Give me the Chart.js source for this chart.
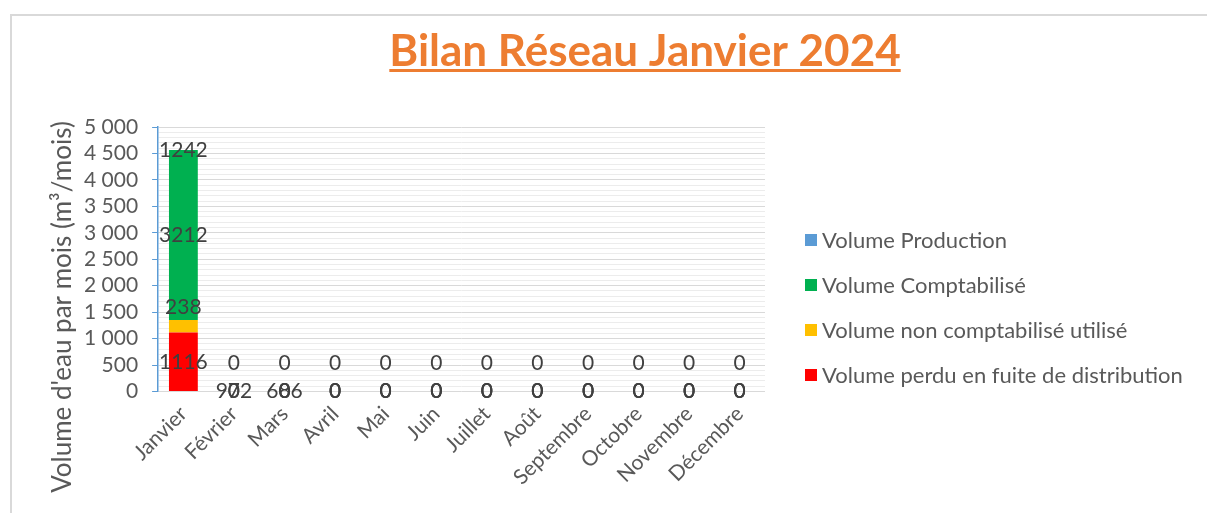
<!DOCTYPE html>
<html lang="fr">
<head>
<meta charset="utf-8">
<title>Bilan Réseau Janvier 2024</title>
<script src="https://cdn.jsdelivr.net/npm/chart.js@4/dist/chart.umd.min.js"></script>
<style>
  html, body { margin: 0; padding: 0; background: #fff; }
  #cadre {
    position: absolute; left: 10px; top: 14px; width: 1197px; height: 499px;
    border-left: 2px solid #d9d9d9; border-top: 2px solid #d9d9d9;
  }
  #zone { position: absolute; left: 0; top: 0; width: 1207px; height: 513px; }
  #legende {
    position: absolute; left: 805px; top: 227px; margin: 0; padding: 0;
    list-style: none; font-family: Lato, sans-serif; font-size: 22px; line-height: 26px; color: #595959;
  }
  #legende li { height: 45px; display: flex; align-items: flex-start; white-space: nowrap; }
  #legende span.boite { width: 12px; height: 12px; margin: 7px 5px 0 0; display: inline-block; flex: none; }
</style>
</head>
<body>
<div id="cadre"></div>
<div id="zone"><canvas id="myChart" width="1207" height="513"></canvas></div>
<ul id="legende"></ul>
<script>
const mois = ["Janvier", "Février", "Mars", "Avril", "Mai", "Juin", "Juillet", "Août",
  "Septembre", "Octobre", "Novembre", "Décembre"];
const volumePerdu = [1116, 0, 0, 0, 0, 0, 0, 0, 0, 0, 0, 0];
const volumeNonCompta = [238, 0, 0, 0, 0, 0, 0, 0, 0, 0, 0, 0];
const volumeCompta = [3212, 0, 0, 0, 0, 0, 0, 0, 0, 0, 0, 0];
const volumeProduction = [1242, 972, 686, 0, 0, 0, 0, 0, 0, 0, 0, 0];
const titre = "Bilan Réseau Janvier 2024";
const titreAxeY = "Volume d'eau par mois (m³/mois)";

const GRIS = "#595959";
const POLICE = "Lato, sans-serif";

// separateur de milliers a la francaise : "5 000"
function formaterMille(v) {
  return String(v).replace(/\B(?=(\d{3})+(?!\d))/g, " ");
}

// titre souligne + titre de l'axe vertical
const pluginTextes = {
  id: "textes",
  afterDraw(chart) {
    const ctx = chart.ctx;
    ctx.save();
    ctx.font = "bold 44px " + POLICE;
    ctx.fillStyle = "#ed7d31";
    ctx.textAlign = "center";
    ctx.textBaseline = "alphabetic";
    ctx.fillText(titre, 645, 66);
    const w = ctx.measureText(titre).width;
    ctx.fillRect(645 - w / 2, 69, w, 3);

    ctx.translate(63, 307);
    ctx.rotate(-Math.PI / 2);
    ctx.font = "26px " + POLICE;
    ctx.fillStyle = GRIS;
    ctx.textBaseline = "middle";
    ctx.fillText(titreAxeY, 0, 0);
    ctx.restore();
  },
};

// etiquettes de donnees, placees un peu comme Excel
const pluginEtiquettes = {
  id: "etiquettes",
  afterDatasetsDraw(chart) {
    const ctx = chart.ctx;
    ctx.save();
    ctx.font = "21px " + POLICE;
    ctx.fillStyle = "#404040";
    ctx.textAlign = "center";
    ctx.textBaseline = "middle";
    chart.data.datasets.forEach((ds, i) => {
      const meta = chart.getDatasetMeta(i);
      meta.data.forEach((barre, j) => {
        const v = ds.data[j];
        const haut = barre.y;
        const bas = barre.base;
        let y = (haut + bas) / 2;
        if (ds.position === "basMin") y = Math.min(y, bas - 28);
        if (ds.position === "dessus" && v > 0 && bas - haut < 20) y = haut - 13;
        if (ds.position === "base") y = bas;
        ctx.fillText(String(v), barre.x, y);
      });
    });
    ctx.restore();
  },
};

const config = {
  type: "bar",
  data: {
    labels: mois,
    datasets: [
      { label: "Volume perdu en fuite de distribution", data: volumePerdu,
        backgroundColor: "#ff0000", legende: "#ff0000", position: "basMin" },
      { label: "Volume non comptabilisé utilisé", data: volumeNonCompta,
        backgroundColor: "#ffc000", legende: "#ffc000", position: "dessus" },
      { label: "Volume Comptabilisé", data: volumeCompta,
        backgroundColor: "#00b050", legende: "#00b050", position: "centre" },
      { label: "Volume Production", data: volumeProduction,
        backgroundColor: "rgba(0,0,0,0)", legende: "#5b9bd5", position: "base" },
    ],
  },
  options: {
    responsive: false,
    animation: false,
    layout: { padding: { left: 70, right: 442, top: 127, bottom: 21 } },
    datasets: { bar: { categoryPercentage: 1, barPercentage: 0.57 } },
    plugins: { legend: { display: false }, tooltip: { enabled: false } },
    scales: {
      x: {
        stacked: true,
        grid: { display: false },
        border: { display: false },
        ticks: {
          minRotation: 45, maxRotation: 45, color: GRIS, padding: 2,
          font: { family: POLICE, size: 21 },
        },
      },
      y: {
        stacked: true,
        min: 0, max: 5000,
        border: { display: true, color: "#5b9bd5", width: 1.5 },
        grid: {
          color: (c) => (c.tick.value % 500 === 0 ? "#d9d9d9" : "#ececec"),
          tickColor: (c) => (c.tick.value % 500 === 0 ? "#5b9bd5" : "rgba(0,0,0,0)"),
          tickLength: 6,
          lineWidth: 1,
        },
        ticks: {
          stepSize: 100, autoSkip: false, color: GRIS, padding: 14,
          font: { family: POLICE, size: 21 },
          callback: (v) => (v % 500 === 0 ? formaterMille(v) : ""),
        },
      },
    },
  },
  plugins: [pluginEtiquettes, pluginTextes],
};

const myChart = new Chart(document.getElementById("myChart"), config);

// legende en HTML, dans l'ordre inverse de l'empilement
const legende = document.getElementById("legende");
myChart.data.datasets.slice().reverse().forEach((ds) => {
  const li = document.createElement("li");
  const boite = document.createElement("span");
  boite.className = "boite";
  boite.style.background = ds.legende;
  li.appendChild(boite);
  li.appendChild(document.createTextNode(ds.label));
  legende.appendChild(li);
});
</script>
</body>
</html>
